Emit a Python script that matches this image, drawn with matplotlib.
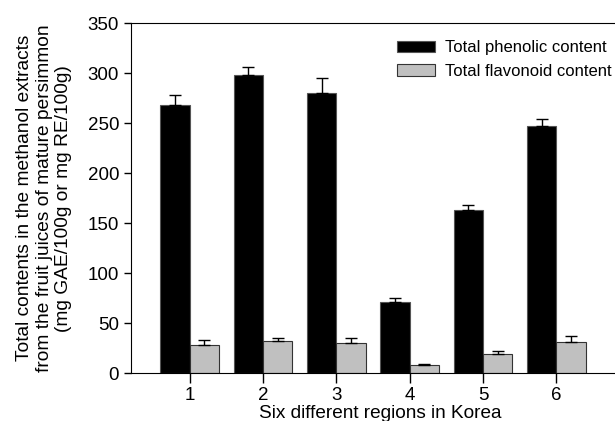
import numpy as np
import matplotlib.pyplot as plt

plt.rcParams['font.family'] = ['Liberation Sans', 'DejaVu Sans']

regions = [1, 2, 3, 4, 5, 6]
phenolic = [268, 298, 280, 71, 163, 247]
phenolic_err = [10, 8, 15, 4, 5, 7]
flavonoid = [28, 32, 30, 8, 19, 31]
flavonoid_err = [5, 3, 5, 1, 3, 6]

fig = plt.figure(figsize=(6.15, 4.21), dpi=100)
ax = fig.add_axes([0.213, 0.114, 0.811, 0.831])

x = np.array(regions)
w = 0.4
ekw = dict(capsize=4, lw=1, capthick=1, ecolor='black')
ax.bar(x - w / 2, phenolic, w, color='black', edgecolor='#555555', lw=0.8,
       yerr=[np.zeros(6), phenolic_err], error_kw=ekw,
       label='Total phenolic content')
ax.bar(x + w / 2, flavonoid, w, color='#c0c0c0', edgecolor='#333333', lw=0.8,
       yerr=[np.zeros(6), flavonoid_err], error_kw=ekw,
       label='Total flavonoid content')

ax.set_xlim(0.2, 7)
ax.set_ylim(0, 350)
ax.set_yticks(range(0, 351, 50))
ax.set_xticks(regions)
ax.tick_params(axis='both', direction='out', length=5, width=1, labelsize=13.5)
ax.tick_params(axis='x', length=7, pad=3)
ax.spines['right'].set_visible(False)

ax.set_xlabel('Six different regions in Korea', fontsize=13.7, labelpad=1)
ax.set_ylabel('Total contents in the methanol extracts\n'
              'from the fruit juices of mature persimmon\n'
              '(mg GAE/100g or mg RE/100g)', fontsize=13.8, labelpad=11,
              linespacing=1.2)

ax.legend(loc='upper left', bbox_to_anchor=(0.519, 0.97), frameon=False,
          fontsize=12, handlelength=2.3, handleheight=0.7,
          handletextpad=0.6, labelspacing=0.5, borderaxespad=0)

plt.savefig('out.png', dpi=100)
